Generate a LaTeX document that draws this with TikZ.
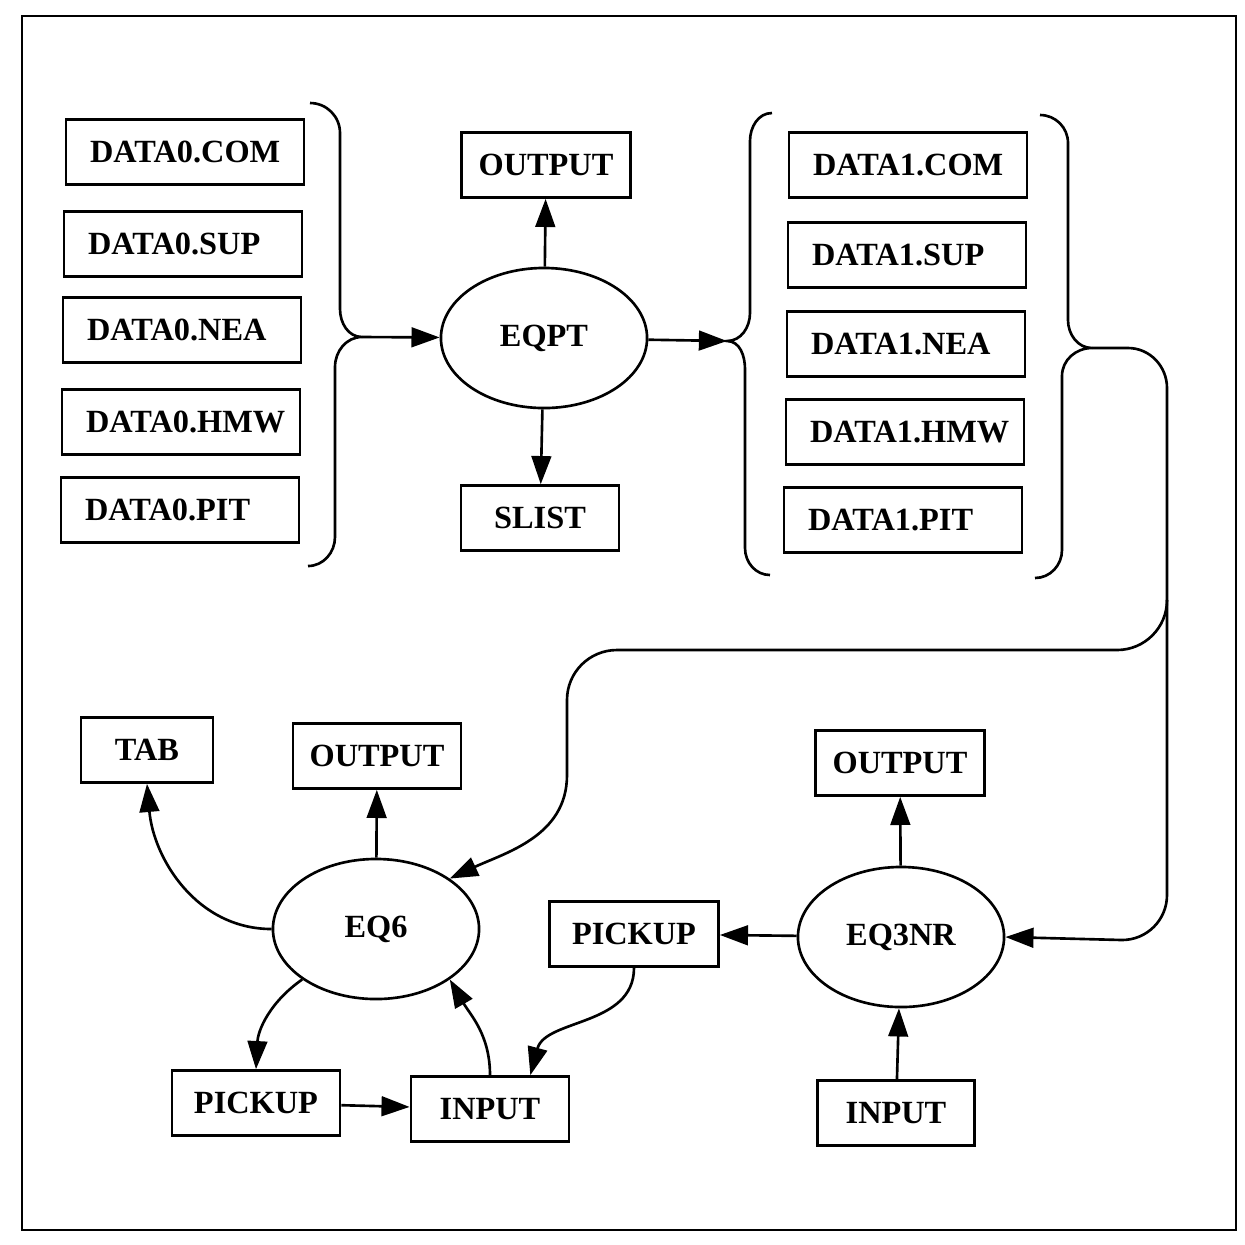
\documentclass[tikz,border=0pt]{standalone}
\usepackage{fontspec}
\setmainfont{Liberation Serif}
\usetikzlibrary{shapes.geometric, arrows.meta, positioning}
\begin{document}
\begin{tikzpicture}[-, x=0.01cm, y=-0.01cm, line width=0.75pt,
	font=\fontsize{9.2}{11}\selectfont\bfseries,
	datafile/.style={draw, minimum height=0.65cm, text width=54pt, inner xsep=6.8pt, align=left},
	filebox/.style={draw, minimum height=0.65cm},
	prog/.style={draw, ellipse, minimum width=2.06cm, minimum height=1.40cm},
	arr/.style={-{Triangle[length=8pt,width=5.6pt]}}]
	\useasboundingbox (0,0) rectangle (1245,1244);
	\draw (22,16) rectangle (1236,1230);

	% input files of EQPT
	\node[datafile] (d0com) at (185,152) {DATA0.COM};
	\node[datafile] (d0sup) at (183,244) {DATA0.SUP};
	\node[datafile] (d0nea) at (182,330) {DATA0.NEA};
	\node[datafile] (d0hmw) at (181,422) {DATA0.HMW};
	\node[datafile] (d0pit) at (180,510) {DATA0.PIT};

	\node[prog] (eqpt) at (544,338) {EQPT};
	\node[filebox, minimum width=1.69cm] (outa) at (546,165) {OUTPUT};
	\node[filebox, minimum width=1.58cm] (slist) at (540,518) {SLIST};

	% output files of EQPT
	\node[datafile] (d1com) at (908,165) {DATA1.COM};
	\node[datafile] (d1sup) at (907,255) {DATA1.SUP};
	\node[datafile] (d1nea) at (906,344) {DATA1.NEA};
	\node[datafile] (d1hmw) at (905,432) {DATA1.HMW};
	\node[datafile] (d1pit) at (903,520) {DATA1.PIT};

	% EQ6 and EQ3NR
	\node[filebox, minimum width=1.32cm] (tab) at (147,750) {TAB};
	\node[filebox, minimum width=1.68cm] (outb) at (377,756) {OUTPUT};
	\node[prog] (eqsix) at (376,929) {EQ6};
	\node[filebox, minimum width=1.68cm] (picka) at (256,1103) {PICKUP};
	\node[filebox, minimum width=1.58cm] (inpa) at (490,1109) {INPUT};
	\node[filebox, minimum width=1.69cm] (pickb) at (634,934) {PICKUP};
	\node[prog] (eqthree) at (901,937) {EQ3NR};
	\node[filebox, minimum width=1.69cm] (outc) at (900,763) {OUTPUT};
	\node[filebox, minimum width=1.57cm] (inpb) at (896,1113) {INPUT};

	% braces
	\coordinate (lbr) at (362,337);
	\coordinate (rbr) at (727,341);
	\coordinate (rcb) at (1092,348);
	\coordinate (split) at (1167,600);
	\draw (310,103) to[out=0,in=90] (340,133) -- (340,309) to[out=-90,in=180] (lbr)
		to[out=180,in=90] (335,367) -- (335,537) to[out=-90,in=0] (308,566);
	\draw (772,113) to[out=180,in=90] (750,141) -- (750,313) to[out=-90,in=0] (rbr)
		to[out=0,in=90] (745,369) -- (745,548) to[out=-90,in=180] (770,575);
	\draw (1040,115) to[out=0,in=90] (1068,143) -- (1068,320) to[out=-90,in=180] (rcb)
		to[out=180,in=90] (1062,376) -- (1062,550) to[out=-90,in=0] (1035,578);

	\draw[arr] (lbr) -- (eqpt);
	\draw[arr] (eqpt) -- (rbr);
	\draw (eqpt) edge[arr] (outa);
	\draw (eqpt) edge[arr] (slist);

	\draw (rcb) -- (1128,348) to[out=0,in=90] (1167,388) -- (split);
	\draw[arr] (split) to[out=-90,in=0] (1117,650) -- (617,650) to[out=180,in=90] (567,700)
		-- (567,775) to[out=-90,in=25] (eqsix.north east);
	\draw[arr] (split) -- (1167,895) to[out=-90,in=0] (1122,940) -- (eqthree.east);

	\draw (eqsix) edge[arr] (outb);
	\draw (eqsix.west) edge[arr, out=180, in=-85] (tab.south);
	\draw (eqsix.south west) edge[arr, out=-145, in=87] (picka.north);
	\draw (picka) edge[arr] (inpa);
	\draw (inpa.north) edge[arr, out=90, in=-60] (eqsix.south east);
	\draw (pickb.south) edge[arr, out=-90, in=75] (inpa.40);

	\draw (eqthree) edge[arr] (pickb);
	\draw (eqthree) edge[arr] (outc);
	\draw (inpb) edge[arr] (eqthree);
\end{tikzpicture}
\end{document}
